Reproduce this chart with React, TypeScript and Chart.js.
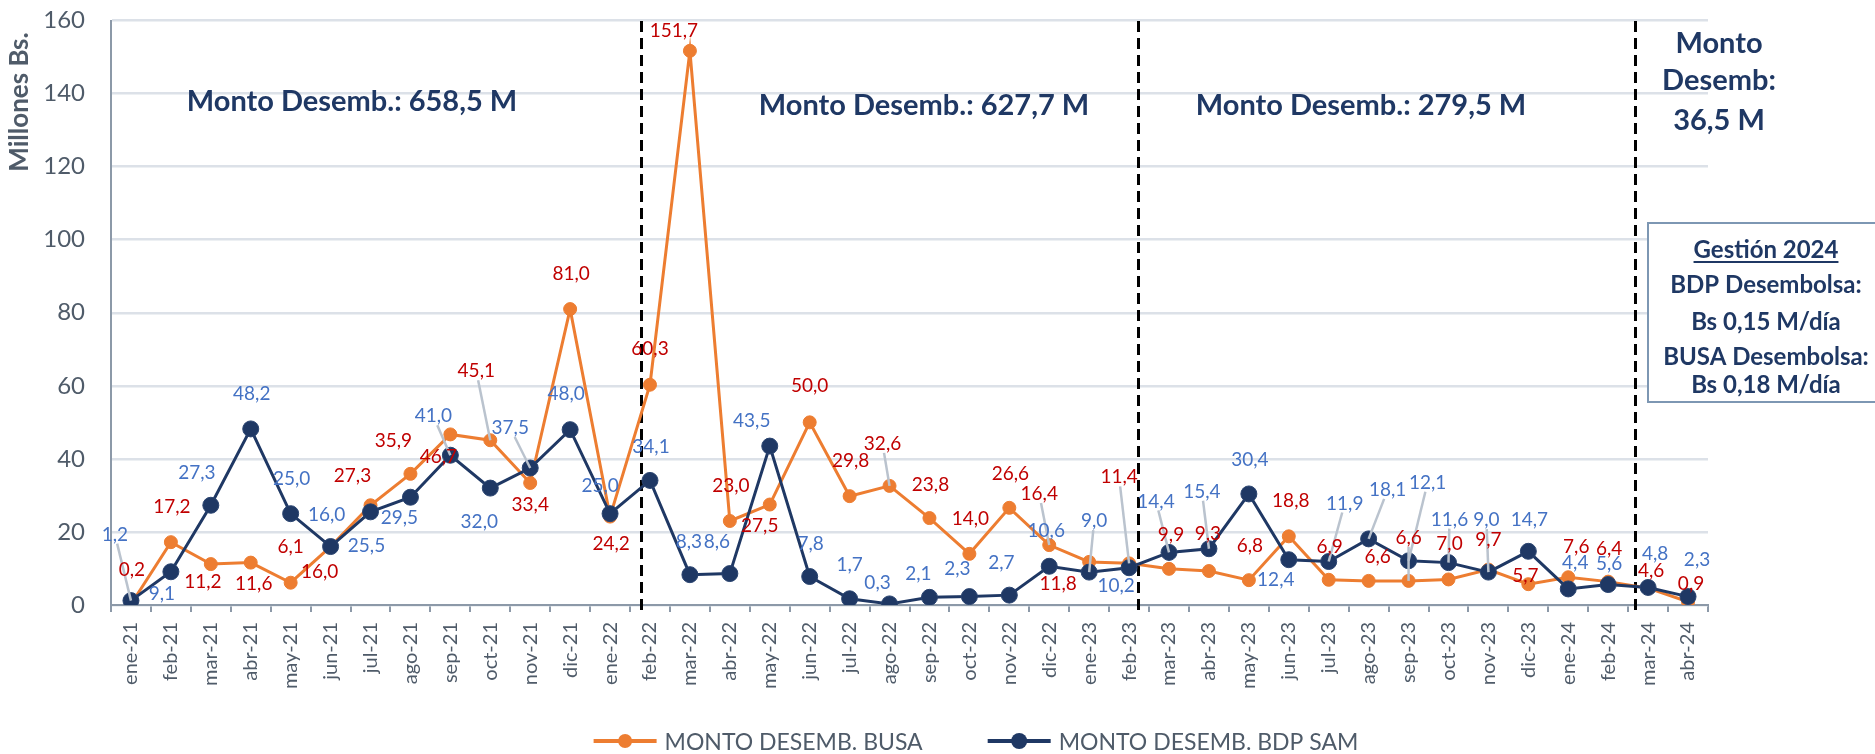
import React, { useEffect, useRef } from 'react';
import { Chart, registerables } from 'chart.js';

Chart.register(...registerables);

// ---------- DATA ----------
const months = [
  'ene-21', 'feb-21', 'mar-21', 'abr-21', 'may-21', 'jun-21', 'jul-21', 'ago-21', 'sep-21', 'oct-21', 'nov-21', 'dic-21',
  'ene-22', 'feb-22', 'mar-22', 'abr-22', 'may-22', 'jun-22', 'jul-22', 'ago-22', 'sep-22', 'oct-22', 'nov-22', 'dic-22',
  'ene-23', 'feb-23', 'mar-23', 'abr-23', 'may-23', 'jun-23', 'jul-23', 'ago-23', 'sep-23', 'oct-23', 'nov-23', 'dic-23',
  'ene-24', 'feb-24', 'mar-24', 'abr-24',
];

const busa = [
  0.2, 17.2, 11.2, 11.6, 6.1, 16.0, 27.3, 35.9, 46.7, 45.1, 33.4, 81.0,
  24.2, 60.3, 151.7, 23.0, 27.5, 50.0, 29.8, 32.6, 23.8, 14.0, 26.6, 16.4,
  11.8, 11.4, 9.9, 9.3, 6.8, 18.8, 6.9, 6.6, 6.6, 7.0, 9.7, 5.7,
  7.6, 6.4, 4.6, 0.9,
];

const bdp = [
  1.2, 9.1, 27.3, 48.2, 25.0, 16.0, 25.5, 29.5, 41.0, 32.0, 37.5, 48.0,
  25.0, 34.1, 8.3, 8.6, 43.5, 7.8, 1.7, 0.3, 2.1, 2.3, 2.7, 10.6,
  9.0, 10.2, 14.4, 15.4, 30.4, 12.4, 11.9, 18.1, 12.1, 11.6, 9.0, 14.7,
  4.4, 5.6, 4.8, 2.3,
];

const yTickStep = 20;
const yMin = 0;
const yMax = 160;

const seriesNames = ['MONTO DESEMB. BUSA', 'MONTO DESEMB. BDP SAM'];
const periodTotals = ['Monto Desemb.: 658,5 M', 'Monto Desemb.: 627,7 M', 'Monto Desemb.: 279,5 M'];
const lastPeriodLines = ['Monto', 'Desemb:', '36,5 M'];
const boxLines = ['Gestión 2024', 'BDP Desembolsa:', 'Bs 0,15 M/día', 'BUSA Desembolsa:', 'Bs 0,18 M/día'];
const yAxisTitle = 'Millones Bs.';

// ---------- LAYOUT / STYLE (not data) ----------
const FONT = 'Lato, "Noto Sans", sans-serif';
const ORANGE = '#ED7D31';
const NAVY = '#1F3864';
const RED = '#C00000';
const BLUE = '#4472C4';
const TICK = '#4F5B69';
const AXIS = '#8C99A8';
const GRID = '#DCE1E8';

// divider positions, in category-index units
const dividerIndex = [12.77, 25.23, 37.68];
// label offsets from each point, pixels [dx, dy]
const busaLabelOffsets = [
  [1, -34], [1, -35], [-8, 18], [3, 21], [0, -36], [-11, 25], [-18, -29], [-17, -33], [-12, 22], [-14, -69],
  [0, 22], [1, -35], [1, 27], [0, -36], [-16, -20], [1, -35], [-10, 21], [0, -36], [1, -35], [-7, -42],
  [1, -33], [1, -35], [1, -34], [-10, -51], [-31, 22], [-10, -86], [2, -34], [-1, -37], [1, -34], [2, -35],
  [1, -33], [9, -24], [0, -43], [1, -36], [0, -30], [-3, -8], [8, -30], [1, -33], [3, -17], [3, -18],
];
const bdpLabelOffsets = [
  [-16, -66], [-9, 22], [-14, -32], [1, -35], [1, -35], [-4, -32], [-4, 34], [-11, 21], [-17, -39], [-11, 34],
  [-20, -40], [-4, -36], [-10, -28], [1, -34], [-1, -33], [-13, -32], [-18, -25], [1, -33], [0, -34], [-12, -21],
  [-11, -23], [-12, -28], [-8, -32], [-3, -35], [5, -51], [-13, 18], [-13, -51], [-7, -57], [1, -34], [-13, 20],
  [16, -58], [19, -49], [19, -78], [1, -43], [-2, -52], [1, -31], [7, -26], [1, -21], [7, -34], [9, -37],
];

const fmt = (v: number) => v.toFixed(1).replace('.', ',');

const overlay = {
  id: 'overlay',
  beforeDatasetsDraw(chart: any) {
    const { ctx, scales } = chart;
    const x = scales.x;
    ctx.save();
    ctx.strokeStyle = '#000000';
    ctx.lineWidth = 3;
    ctx.setLineDash([11, 6]);
    dividerIndex.forEach((v) => {
      const px = Math.round(x.getPixelForValue(v)) + 0.5;
      ctx.beginPath();
      ctx.moveTo(px, 21);
      ctx.lineTo(px, 612);
      ctx.stroke();
    });
    ctx.restore();
  },
  afterDatasetsDraw(chart: any) {
    const { ctx } = chart;
    const sets = [
      { values: busa, offsets: busaLabelOffsets, color: RED, meta: chart.getDatasetMeta(0) },
      { values: bdp, offsets: bdpLabelOffsets, color: BLUE, meta: chart.getDatasetMeta(1) },
    ];
    ctx.save();
    ctx.font = `19px ${FONT}`;
    // leader lines
    sets.forEach((s) => {
      s.values.forEach((v, i) => {
        const [dx, dy] = s.offsets[i];
        const dist = Math.hypot(dx, dy);
        if (dist <= 40) return;
        const p = s.meta.data[i];
        const lx = p.x + dx;
        const ly = p.y + dy;
        const hw = ctx.measureText(fmt(v)).width / 2 + 1;
        const hh = 9;
        const t = Math.min(dx !== 0 ? hw / Math.abs(dx) : 1, dy !== 0 ? hh / Math.abs(dy) : 1);
        ctx.strokeStyle = '#BAC3CE';
        ctx.lineWidth = 2.5;
        ctx.beginPath();
        ctx.moveTo(lx - dx * t, ly - dy * t);
        ctx.lineTo(p.x, p.y);
        ctx.stroke();
      });
    });
    // labels
    ctx.textAlign = 'center';
    ctx.textBaseline = 'middle';
    sets.forEach((s) => {
      ctx.fillStyle = s.color;
      s.values.forEach((v, i) => {
        const [dx, dy] = s.offsets[i];
        const p = s.meta.data[i];
        ctx.fillText(fmt(v), p.x + dx, p.y + dy);
      });
    });
    ctx.restore();
  },
  afterDraw(chart: any) {
    const { ctx } = chart;
    ctx.save();

    // y-axis title
    ctx.save();
    ctx.translate(19.5, 102);
    ctx.rotate(-Math.PI / 2);
    ctx.font = `bold 26px ${FONT}`;
    ctx.fillStyle = TICK;
    ctx.textAlign = 'center';
    ctx.textBaseline = 'middle';
    ctx.fillText(yAxisTitle, 0, 0);
    ctx.restore();

    // period totals
    ctx.fillStyle = NAVY;
    ctx.font = `bold 29px ${FONT}`;
    ctx.textAlign = 'center';
    ctx.textBaseline = 'alphabetic';
    const totalPos = [[352, 111], [924, 115], [1361, 115]];
    periodTotals.forEach((t, i) => ctx.fillText(t, totalPos[i][0], totalPos[i][1]));
    const lastBase = [53, 90, 130];
    lastPeriodLines.forEach((t, i) => ctx.fillText(t, 1719, lastBase[i]));

    // Gestion box
    ctx.fillStyle = '#FFFFFF';
    ctx.fillRect(1648, 223, 240, 179);
    ctx.strokeStyle = '#7D97B3';
    ctx.lineWidth = 2;
    ctx.strokeRect(1648, 223, 240, 179);
    ctx.fillStyle = NAVY;
    ctx.font = `bold 24px ${FONT}`;
    const boxBase = [258, 293, 330, 365, 393];
    boxLines.forEach((t, i) => {
      ctx.fillText(t, 1766, boxBase[i]);
      if (i === 0) {
        const w = ctx.measureText(t).width;
        ctx.fillRect(1766 - w / 2, boxBase[i] + 3, w, 2);
      }
    });

    // legend
    ctx.font = `23px ${FONT}`;
    ctx.textAlign = 'left';
    ctx.textBaseline = 'alphabetic';
    const markerW = 63;
    const gapText = 8;
    const gapItems = 65;
    const w1 = ctx.measureText(seriesNames[0]).width;
    const w2 = ctx.measureText(seriesNames[1]).width;
    const total = markerW + gapText + w1 + gapItems + markerW + gapText + w2;
    let cx = 976 - total / 2;
    const my = 741;
    const items = [
      { name: seriesNames[0], color: ORANGE, r: 7, w: w1 },
      { name: seriesNames[1], color: NAVY, r: 8, w: w2 },
    ];
    items.forEach((it) => {
      ctx.strokeStyle = it.color;
      ctx.lineWidth = 4;
      ctx.beginPath();
      ctx.moveTo(cx, my);
      ctx.lineTo(cx + markerW, my);
      ctx.stroke();
      ctx.fillStyle = it.color;
      ctx.beginPath();
      ctx.arc(cx + markerW / 2, my, it.r, 0, Math.PI * 2);
      ctx.fill();
      ctx.fillStyle = TICK;
      ctx.fillText(it.name, cx + markerW + gapText, 749.5);
      cx += markerW + gapText + it.w + gapItems;
    });

    ctx.restore();
  },
};

export default function App() {
  const ref = useRef<HTMLCanvasElement>(null);

  useEffect(() => {
    const canvas = ref.current;
    if (!canvas) return;
    const chart = new Chart(canvas, {
      type: 'line',
      data: {
        labels: months,
        datasets: [
          {
            label: seriesNames[0],
            data: busa,
            borderColor: ORANGE,
            backgroundColor: ORANGE,
            borderWidth: 3,
            pointRadius: 6.5,
            pointBackgroundColor: ORANGE,
            pointBorderColor: ORANGE,
            pointBorderWidth: 1,
            tension: 0,
            order: 2,
          },
          {
            label: seriesNames[1],
            data: bdp,
            borderColor: NAVY,
            backgroundColor: NAVY,
            borderWidth: 3,
            pointRadius: 8,
            pointBackgroundColor: NAVY,
            pointBorderColor: '#2A4470',
            pointBorderWidth: 1,
            tension: 0,
            order: 1,
          },
        ],
      },
      options: {
        responsive: false,
        animation: false,
        devicePixelRatio: 1,
        layout: { padding: { left: 0, right: 167, top: 0, bottom: 50 } },
        plugins: {
          legend: { display: false },
          tooltip: { enabled: false },
        },
        scales: {
          x: {
            type: 'category',
            offset: true,
            grid: {
              display: true,
              drawOnChartArea: false,
              drawTicks: true,
              tickLength: 7,
              color: AXIS,
              lineWidth: 2,
              offset: true,
            },
            border: { display: true, color: AXIS, width: 2 },
            ticks: {
              autoSkip: false,
              maxRotation: 90,
              minRotation: 90,
              padding: 10,
              color: TICK,
              font: { family: FONT, size: 20 },
            },
            afterFit: (s: any) => {
              s.height = 99;
              s.paddingLeft = 0;
              s.paddingRight = 0;
            },
          },
          y: {
            min: yMin,
            max: yMax,
            ticks: {
              stepSize: yTickStep,
              padding: 26,
              color: TICK,
              font: { family: FONT, size: 24 },
            },
            grid: { color: GRID, lineWidth: 2.5, drawTicks: false },
            border: { display: true, color: AXIS, width: 2 },
            afterFit: (s: any) => {
              s.width = 111;
              s.paddingTop = 20.5;
              s.paddingBottom = 0;
            },
          },
        },
      },
      plugins: [overlay],
    } as any);
    return () => chart.destroy();
  }, []);

  return (
    <canvas
      ref={ref}
      width={1875}
      height={754}
      style={{ position: 'fixed', left: 0, top: 0, width: 1875, height: 754 }}
    />
  );
}
